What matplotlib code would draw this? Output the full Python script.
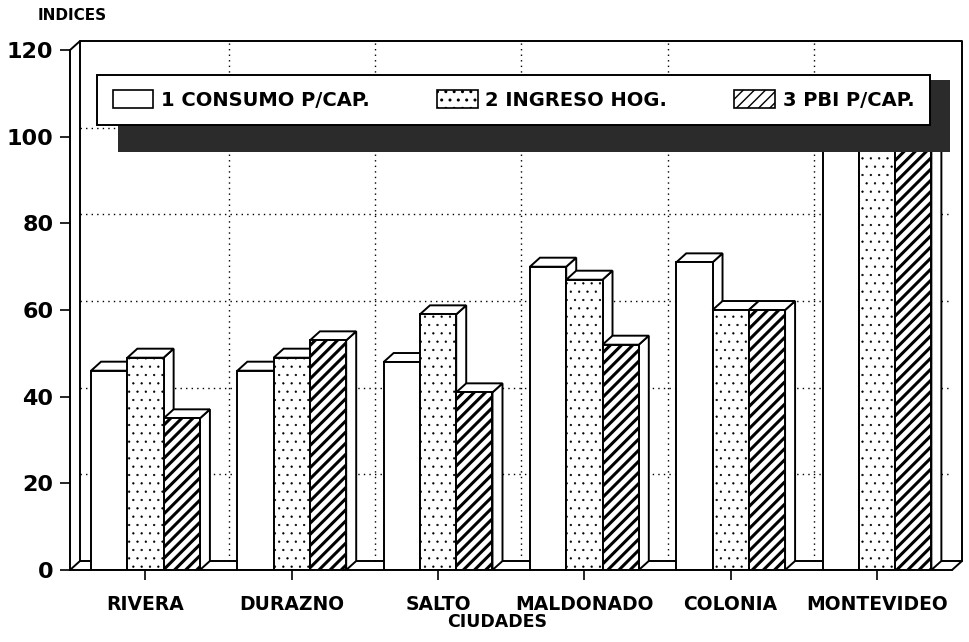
import numpy as np
import matplotlib
matplotlib.use("Agg")
import matplotlib.pyplot as plt
from matplotlib.patches import Polygon, Patch, Rectangle

# data
ciudades = ["RIVERA", "DURAZNO", "SALTO", "MALDONADO", "COLONIA", "MONTEVIDEO"]
consumo = [46, 46, 48, 70, 71, 100]
ingreso = [49, 49, 59, 67, 60, 100]
pbi = [35, 53, 41, 52, 60, 100]
series_labels = ["1 CONSUMO P/CAP.", "2 INGRESO HOG.", "3 PBI P/CAP."]
y_ticks = [0, 20, 40, 60, 80, 100, 120]

plt.rcParams["font.family"] = "DejaVu Sans"
plt.rcParams["font.weight"] = "bold"

W, H = 969, 642
fig = plt.figure(figsize=(W / 100, H / 100), dpi=100)
fig.patch.set_facecolor("white")

# front plane of the pseudo-3d chart
ax = fig.add_axes([70 / W, (H - 570) / H, (952 - 70) / W, (570 - 28.4) / H])
xmin, xmax = -0.516, 5.513
ax.set_xlim(xmin, xmax)
ax.set_ylim(0, 125)
for s in ax.spines.values():
    s.set_visible(False)

# depth offset (data units)
dx, dy = 0.0684, 2.08
lw = 1.4

# back wall grid (dotted)
for v in y_ticks[1:-1]:
    ax.plot([xmin + dx, xmax + dx], [v + dy, v + dy], ls=(0, (1, 3)), color="black", lw=1.0, zorder=0.5)
for b in np.arange(0.5, 5, 1):
    ax.plot([b + dx, b + dx], [dy, 120 + dy], ls=(0, (1, 3)), color="black", lw=1.0, zorder=0.5)

# box: back wall, floor and front axes
k = dict(color="black", lw=lw, clip_on=False, solid_capstyle="round")
ax.plot([xmin + dx, xmin + dx, xmax + dx, xmax + dx], [dy, 120 + dy, 120 + dy, dy], zorder=1, **k)
ax.plot([xmin + dx, xmax + dx], [dy, dy], zorder=1, **k)
ax.plot([xmin, xmin + dx], [120, 120 + dy], zorder=1, **k)
ax.plot([xmin, xmin + dx], [0, dy], zorder=1, **k)
ax.plot([xmax, xmax + dx], [0, dy], zorder=1, **k)
ax.plot([xmin, xmin], [0, 120], zorder=6, **k)
ax.plot([xmin, xmax], [0, 0], zorder=6, **k)

# bars with top and side faces
width = 0.248
x = np.arange(len(ciudades))
series = [consumo, ingreso, pbi]
hatches = [None, "..", "///"]
hatch_lws = [1.0, 0.4, 2.2]
for j, (vals, hatch) in enumerate(zip(series, hatches)):
    off = (j - 1) * width
    for i, h in enumerate(vals):
        z = 2 + j * 0.1
        xl = x[i] + off - width / 2
        xr = xl + width
        side = Polygon([(xr, 0), (xr, h), (xr + dx, h + dy), (xr + dx, dy)],
                       closed=True, facecolor="white", edgecolor="black", lw=lw, zorder=z)
        top = Polygon([(xl, h), (xl + dx, h + dy), (xr + dx, h + dy), (xr, h)],
                      closed=True, facecolor="white", edgecolor="black", lw=lw, zorder=z)
        ax.add_patch(side)
        ax.add_patch(top)
    bars = ax.bar(x + off, vals, width, facecolor="white", edgecolor="black", hatch=hatch,
                  lw=lw, zorder=2 + j * 0.1 + 0.05)
    for b in bars:
        b.set_hatch_linewidth(hatch_lws[j])

ax.set_yticks(y_ticks)
ax.set_yticklabels([str(v) for v in y_ticks], fontsize=16, fontweight="bold")
ax.set_xticks(x)
ax.set_xticklabels(ciudades, fontsize=13.5, fontweight="bold")
ax.tick_params(axis="y", length=7, width=1.2, pad=5)
ax.tick_params(axis="x", length=7, width=1.2, pad=11)

fig.text(38 / W, 1 - 16 / H, "INDICES", fontsize=11, fontweight="bold", va="center", ha="left")
fig.text(497 / W, 1 - 622 / H, "CIUDADES", fontsize=12.5, fontweight="bold", va="center", ha="center")

# legend with heavy drop shadow
shadow = Rectangle((118 / W, 1 - 152 / H), (950 - 118) / W, (152 - 80) / H, transform=fig.transFigure,
                   facecolor="#2b2b2b", edgecolor="none", zorder=4.5)
ax.add_patch(shadow)
shadow.set_clip_on(False)
handles = []
for h, hl in zip(hatches, hatch_lws):
    p = Patch(facecolor="white", edgecolor="black", hatch=h, lw=1.2)
    p.set_hatch_linewidth(hl)
    handles.append(p)
leg = ax.legend(handles, series_labels, ncol=3, loc="center", mode="expand",
                bbox_to_anchor=(97 / W, 1 - 128 / H, 833 / W, 56 / H), bbox_transform=fig.transFigure,
                prop=dict(size=14, weight="bold"), frameon=True, fancybox=False, framealpha=1,
                edgecolor="black", handlelength=2.1, handleheight=1.0, borderpad=0.8,
                columnspacing=2.0, handletextpad=0.4, borderaxespad=0)
leg.get_frame().set_linewidth(1.4)
leg.set_zorder(5)

fig.savefig("out.png", dpi=100)
